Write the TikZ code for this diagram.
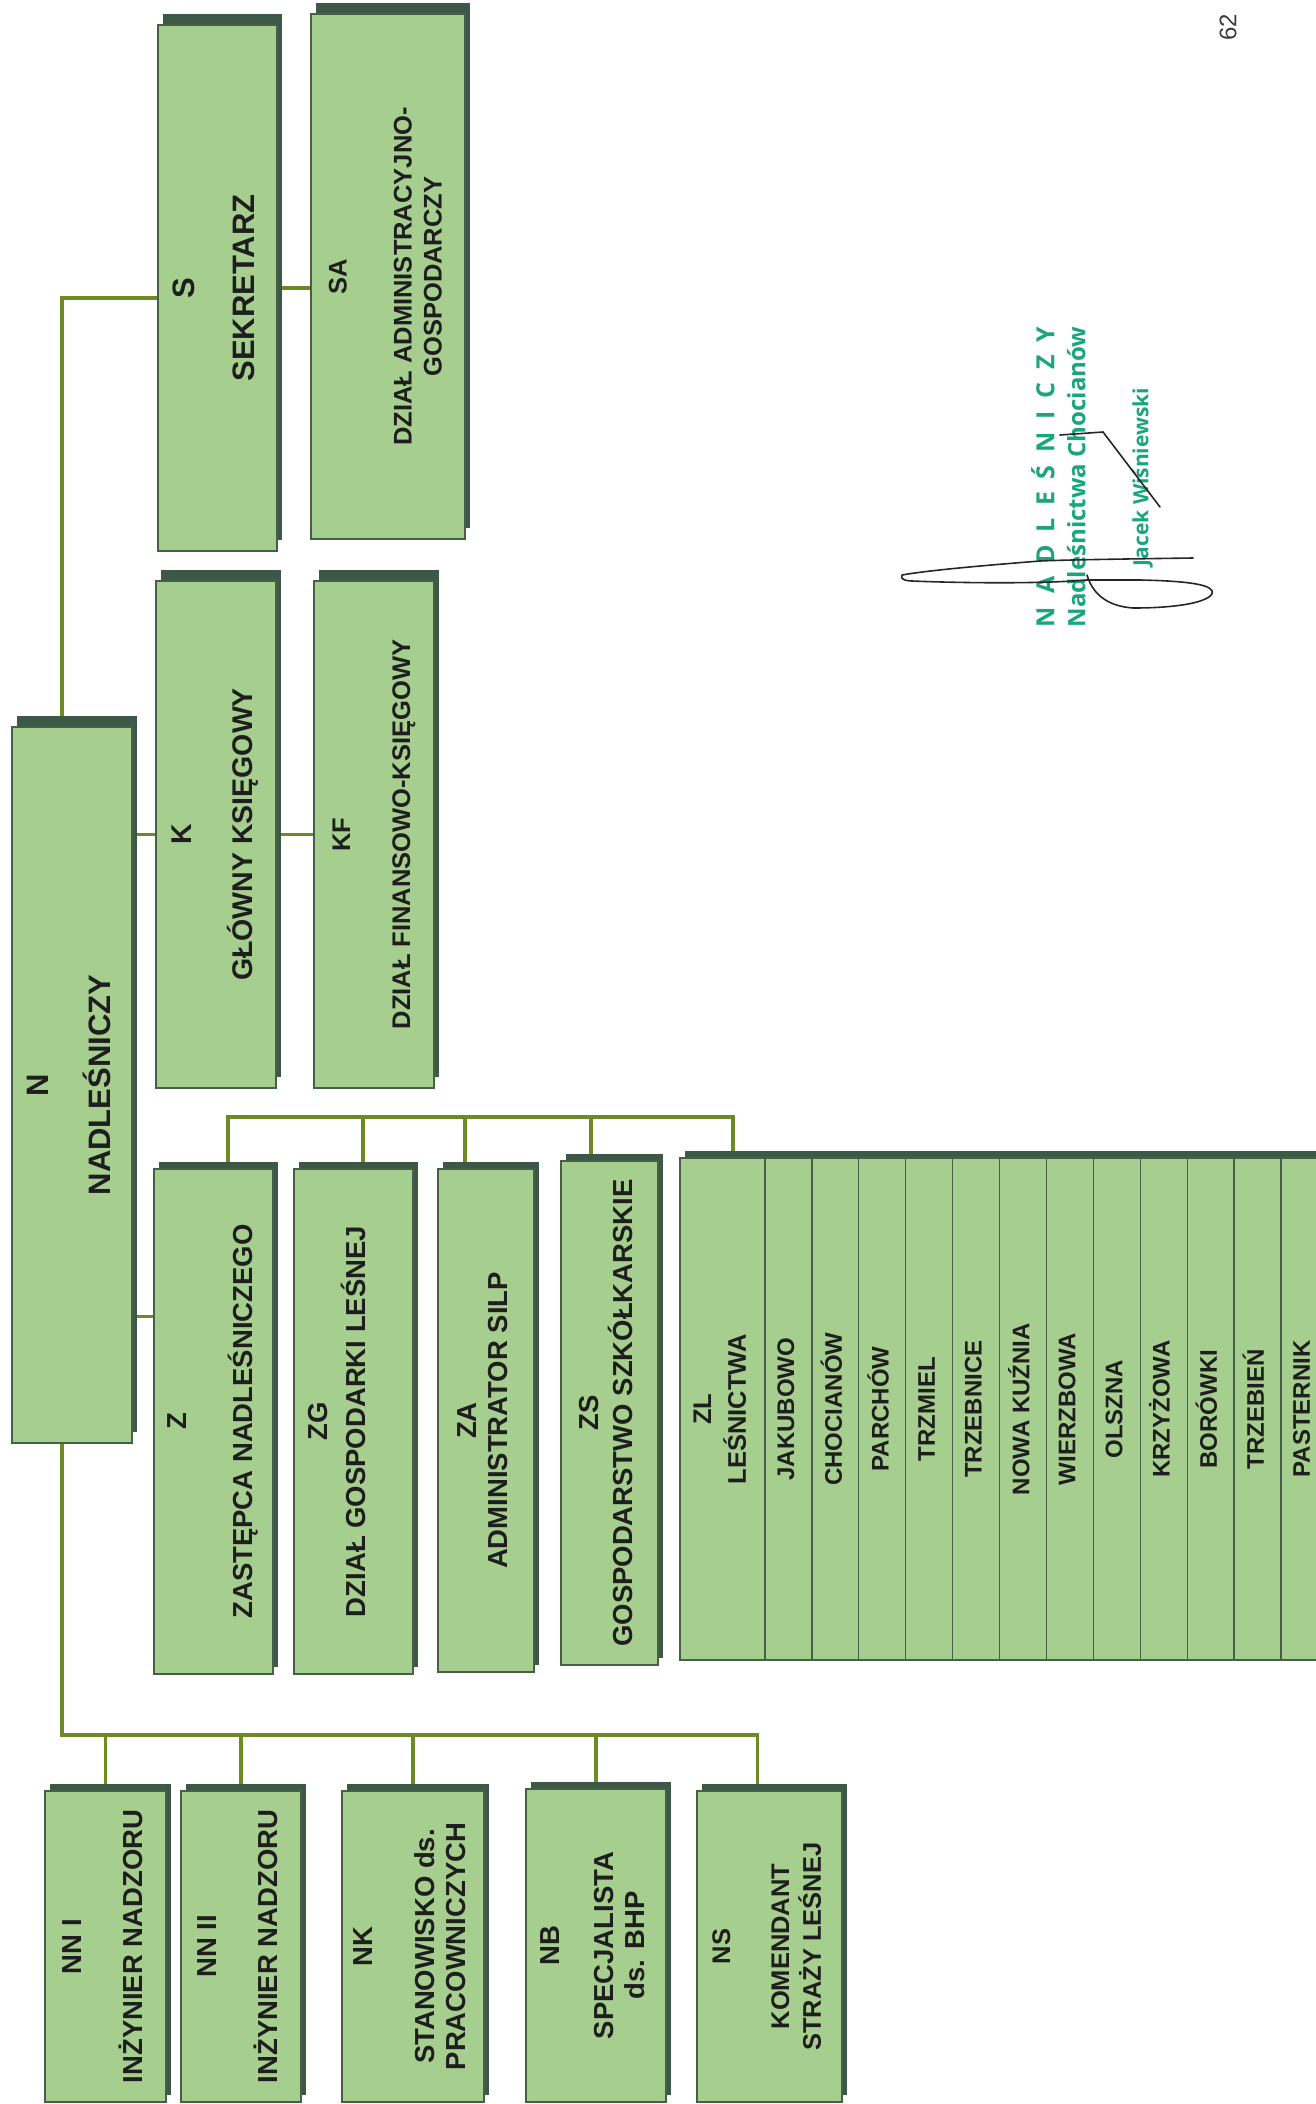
\documentclass[tikz,border=0pt]{standalone}
\usepackage{fontspec}
\setmainfont{Liberation Sans}
\newfontfamily\stampfont{Open Sans}
\usepackage{tikz}
\usepackage{xcolor}
\usetikzlibrary{positioning, shadows, backgrounds}
\definecolor{boxfill}{RGB}{166,206,143}
\definecolor{boxedge}{RGB}{70,95,72}
\definecolor{shadowcol}{RGB}{62,88,72}
\definecolor{linkcol}{RGB}{110,138,35}
\definecolor{inkcol}{RGB}{30,30,30}
\definecolor{stampgreen}{RGB}{25,165,125}
\definecolor{pagegray}{RGB}{60,60,60}
\newcommand{\bigsize}{\bfseries\fontsize{31}{36}\selectfont}
\newcommand{\kasize}{\bfseries\fontsize{28.5}{32}\selectfont}
\newcommand{\midsize}{\bfseries\fontsize{27.5}{31}\selectfont}
\newcommand{\smallsize}{\bfseries\fontsize{25.5}{30}\selectfont}
\newcommand{\colsize}{\bfseries\fontsize{24}{28}\selectfont}
\newcommand{\vlines}[1]{\rotatebox{90}{\begin{tabular}{@{}c@{}}#1\end{tabular}}}

\begin{document}
\begin{tikzpicture}[x=1pt, y=-1pt,
    orgbox/.style={draw=boxedge, line width=1.2pt, fill=boxfill, text=inkcol, anchor=north west,
        inner sep=0pt, outer sep=0pt, font=\midsize,
        drop shadow={shadow xshift=5pt, shadow yshift=#1, fill=shadowcol, opacity=1}},
    orgbox/.default=7pt,
    lcol/.style={orgbox, minimum width=46.9pt, minimum height=502pt, font=\colsize},
    link/.style={draw=linkcol, line width=3.5pt},
    sign/.style={draw=black!85, line width=1.6pt, line cap=round, line join=round}]

    \useasboundingbox (0,0) rectangle (1315,2104);

    % head of the unit
    \node[orgbox=11pt, minimum width=120pt, minimum height=716pt, font=\bigsize] (N) at (12,727) {\vlines{N\\[24pt]NADLEŚNICZY}};

    % secretary and chief accountant
    \node[orgbox=11pt, minimum width=119pt, minimum height=526pt, font=\bigsize] (S) at (158,25) {\vlines{S\\[24pt]SEKRETARZ}};
    \node[orgbox=11pt, minimum width=154pt, minimum height=525pt, font=\smallsize] (SA) at (311,14) {\vlines{SA\\[35pt]DZIAŁ ADMINISTRACYJNO-\\GOSPODARCZY}};
    \node[orgbox=11pt, minimum width=120pt, minimum height=507pt, font=\kasize] (K) at (156,581) {\vlines{K\\[26pt]GŁÓWNY KSIĘGOWY}};
    \node[orgbox=11pt, minimum width=120pt, minimum height=507pt, font=\smallsize] (KF) at (314,581) {\vlines{KF\\[30pt]DZIAŁ FINANSOWO-KSIĘGOWY}};

    % deputy and departments
    \node[orgbox, minimum width=119pt, minimum height=505pt] (Z) at (154,1169) {\vlines{Z\\[32pt]ZASTĘPCA NADLEŚNICZEGO}};
    \node[orgbox, minimum width=119pt, minimum height=505pt] (ZG) at (294,1169) {\vlines{ZG\\[4pt]DZIAŁ GOSPODARKI LEŚNEJ\\[26pt]}};
    \node[orgbox, minimum width=96pt, minimum height=503pt] (ZA) at (438,1169) {\vlines{ZA\\ADMINISTRATOR SILP}};
    \node[orgbox, minimum width=97pt, minimum height=504pt] (ZS) at (561,1161) {\vlines{ZS\\GOSPODARSTWO SZKÓŁKARSKIE}};
    \node[orgbox, minimum width=85pt, minimum height=502pt, font=\smallsize, alias=L0] (ZL) at (680,1158) {\vlines{ZL\\[3pt]LEŚNICTWA}};
    \foreach \lname [count=\i, remember=\i as \last (initially 0)] in {JAKUBOWO, CHOCIANÓW, PARCHÓW, TRZMIEL, TRZEBNICE, NOWA KUŹNIA, WIERZBOWA, OLSZNA, KRZYŻOWA, BORÓWKI, TRZEBIEŃ, PASTERNIK}
        \node[lcol, right=0pt of L\last] (L\i) {\vlines{\lname}};

    % posts under the head
    \node[orgbox, minimum width=121pt, minimum height=311pt] (NNI) at (45,1791) {\vlines{NN I\\[28pt]INŻYNIER NADZORU}};
    \node[orgbox, minimum width=120pt, minimum height=311pt] (NNII) at (181,1791) {\vlines{NN II\\[28pt]INŻYNIER NADZORU}};
    \node[orgbox, minimum width=142pt, minimum height=311pt] (NK) at (342,1791) {\vlines{NK\\[31pt]STANOWISKO ds.\\PRACOWNICZYCH}};
    \node[orgbox, minimum width=140pt, minimum height=313pt] (NB) at (526,1789) {\vlines{NB\\[23pt]SPECJALISTA\\ds. BHP}};
    \node[orgbox, minimum width=145pt, minimum height=311pt, font=\smallsize] (NS) at (697,1791) {\vlines{NS\\[29pt]KOMENDANT\\STRAŻY LEŚNEJ}};

    % stamp, signature, page number
    \node[rotate=90, text=stampgreen, font=\stampfont\bfseries\fontsize{24}{28}\selectfont, align=center] (stamp) at (1092,477)
        {{\fontsize{25}{28}\selectfont\makebox[300pt][s]{N A D L E Ś N I C Z Y}}\\[3pt]
         Nadleśnictwa Chocianów\\[35pt]
         {\fontsize{21}{25}\selectfont Jacek Wiśniewski}};
    \node[rotate=90, text=pagegray, font=\fontsize{24}{28}\selectfont] (pagenum) at (1228,27) {62};

    \draw[sign] (1193,558) .. controls (1120,559) and (1060,560) .. (1040,561)
        .. controls (990,565) and (930,570) .. (902,575)
        .. controls (900,579) and (905,581) .. (912,581)
        .. controls (960,583) and (1040,584) .. (1087,580);
    \draw[sign] (1087,575) .. controls (1092,592) and (1105,606) .. (1133,608)
        .. controls (1170,608) and (1205,604) .. (1212,594)
        .. controls (1216,585) and (1190,581) .. (1140,580) -- (1087,580);
    \draw[sign] (1060,435) -- (1103,432) -- (1160,507);

    % connectors
    \coordinate (zjoin) at ([yshift=105pt]Z.west);
    \coordinate (zbus) at (0,1117);
    \coordinate (nbus) at (0,1735);
    \coordinate (dZ) at ([xshift=74pt]Z.north west);
    \coordinate (dZG) at ([xshift=69pt]ZG.north west);
    \coordinate (dZA) at ([xshift=27pt]ZA.north west);
    \coordinate (dZS) at ([xshift=30pt]ZS.north west);
    \coordinate (dZL) at ([xshift=53pt]ZL.north west);
    \coordinate (dNS) at ([xshift=-12pt]NS.north);
    \begin{scope}[on background layer]
        \draw[link] ([xshift=-10pt]N.north) |- ([yshift=-10pt]S.west);
        \draw[link] (S.east) -- (S.east -| SA.west);
        \draw[link] (K.west -| N.east) -- (K.west);
        \draw[link] (K.east) -- (K.east -| KF.west);
        \draw[link] (zjoin -| N.east) -- (zjoin);
        \draw[link] (dZ) -- (dZ |- zbus) -- (dZL |- zbus) -- (dZL);
        \foreach \d in {dZG, dZA, dZS}
            \draw[link] (\d) -- (\d |- zbus);
        \draw[link] ([xshift=-10pt]N.south) |- (dNS |- nbus) -- (dNS);
        \foreach \b in {NNI, NNII, NK, NB}
            \draw[link] (\b.north) -- (\b.north |- nbus);
    \end{scope}
\end{tikzpicture}
\end{document}
